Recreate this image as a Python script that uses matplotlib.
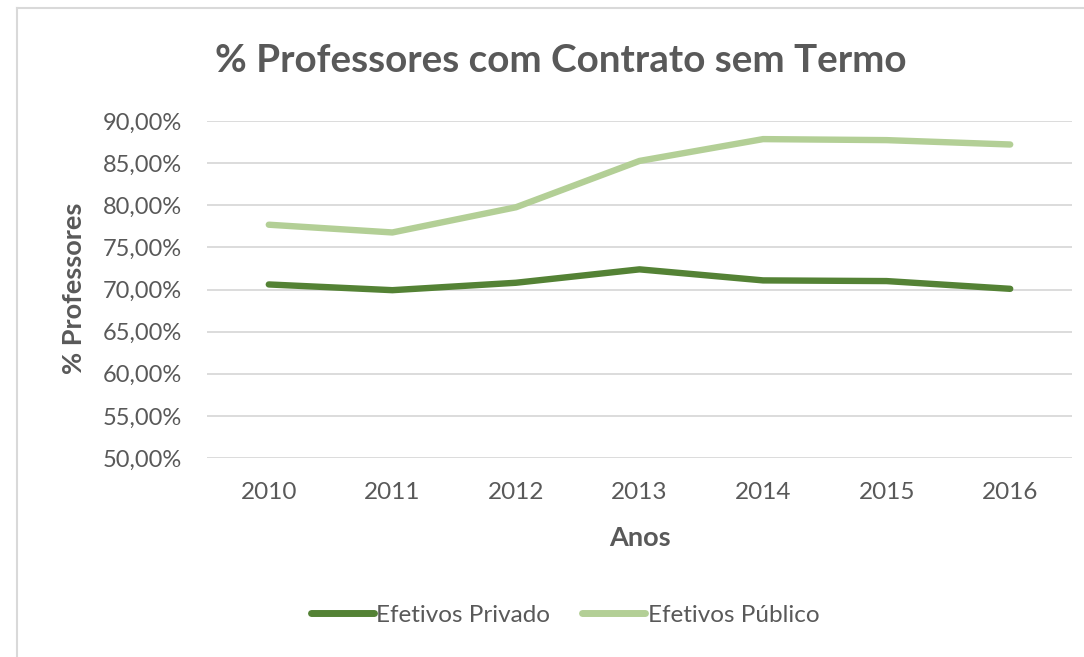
import matplotlib
matplotlib.use("Agg")
import matplotlib.pyplot as plt
from matplotlib.lines import Line2D
from matplotlib.ticker import FuncFormatter

years = ["2010", "2011", "2012", "2013", "2014", "2015", "2016"]
privado = [70.60, 69.92, 70.80, 72.39, 71.08, 71.00, 70.08]
publico = [77.69, 76.77, 79.76, 85.26, 87.85, 87.73, 87.21]
series_names = ["Efetivos Privado", "Efetivos Público"]
colors = ["#548235", "#B3CF96"]

plt.rcParams['font.family'] = ['Lato', 'DejaVu Sans']
txt = "#595959"

W, H = 1084, 657
fig = plt.figure(figsize=(W / 100, H / 100), dpi=100)
fig.patch.set_facecolor("white")

# frame lines (top and left)
fig.add_artist(Line2D([17 / W, 17 / W], [0, 1 - 8 / H], transform=fig.transFigure, color="#d9d9d9", lw=1.5))
fig.add_artist(Line2D([17 / W, 1], [1 - 8 / H, 1 - 8 / H], transform=fig.transFigure, color="#d9d9d9", lw=1.5))

left, right = 207 / W, 1072 / W
top, bottom = 1 - 121 / H, 1 - 458 / H
ax = fig.add_axes([left, bottom, right - left, top - bottom])

x = list(range(len(years)))
ax.plot(x, privado, color=colors[0], lw=4.6, solid_capstyle="round", solid_joinstyle="round", label=series_names[0], zorder=3)
ax.plot(x, publico, color=colors[1], lw=4.6, solid_capstyle="round", solid_joinstyle="round", label=series_names[1], zorder=3)

ax.set_xlim(-0.5, len(years) - 0.5)
ax.set_ylim(50, 90)
ax.set_yticks([50, 55, 60, 65, 70, 75, 80, 85, 90])
ax.yaxis.set_major_formatter(FuncFormatter(lambda v, p: f"{v:.2f}%".replace(".", ",")))
ax.set_xticks(x)
ax.set_xticklabels(years)
ax.grid(axis="y", color="#d9d9d9", lw=1.3, zorder=0)
ax.set_axisbelow(True)
for s in ax.spines.values():
    s.set_visible(False)
ax.tick_params(axis="both", length=0, colors=txt)
ax.tick_params(axis="y", pad=18, labelsize=17)
ax.tick_params(axis="x", pad=17, labelsize=17.5)

fig.text(561 / W, 1 - 60 / H, "% Professores com Contrato sem Termo", ha="center", va="center",
         fontsize=27.8, fontweight="bold", color=txt)
fig.text(74 / W, 1 - 288 / H, "% Professores", ha="center", va="center", rotation=90,
         fontsize=19.5, fontweight="bold", color=txt)
fig.text(640 / W, 1 - 538 / H, "Anos", ha="center", va="center",
         fontsize=19.5, fontweight="bold", color=txt)

leg = fig.legend(loc="center", bbox_to_anchor=(565 / W, 1 - 615 / H), ncol=2, frameon=False,
                 fontsize=17.5, handlelength=2.6, handletextpad=0.1, columnspacing=1.3)
for t in leg.get_texts():
    t.set_color(txt)
for h in leg.get_lines():
    h.set_linewidth(5)
    h.set_solid_capstyle("round")

fig.savefig("out.png", dpi=100, facecolor="white")
